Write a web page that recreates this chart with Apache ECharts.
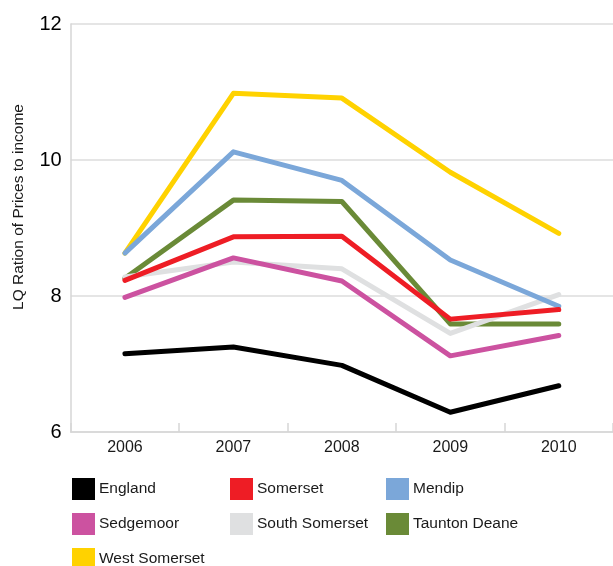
<!DOCTYPE html>
<html>
<head>
<meta charset="utf-8">
<script src="https://cdn.jsdelivr.net/npm/echarts@6/dist/echarts.min.js"></script>
<style>
  html, body { margin: 0; padding: 0; background: #fff; }
  #chart { width: 613px; height: 566px; }
</style>
</head>
<body>
<div id="chart"></div>
<script>
// Lower-quartile house price to income ratio, 2006-2010
const years = ['2006', '2007', '2008', '2009', '2010'];

const england       = [7.15, 7.25, 6.98, 6.29, 6.68];
const somerset      = [8.23, 8.87, 8.88, 7.66, 7.80];
const mendip        = [8.63, 10.12, 9.70, 8.53, 7.85];
const sedgemoor     = [7.98, 8.56, 8.22, 7.12, 7.42];
const southSomerset = [8.28, 8.50, 8.40, 7.45, 8.02];
const tauntonDeane  = [8.26, 9.41, 9.39, 7.59, 7.59];
const westSomerset  = [8.63, 10.98, 10.91, 9.82, 8.92];

const yTicks = { min: 6, max: 12, interval: 2 };

const seriesDefs = [
  { name: 'England',        data: england,       color: '#000000' },
  { name: 'Somerset',       data: somerset,      color: '#ee1d25' },
  { name: 'Mendip',         data: mendip,        color: '#7ba7d9' },
  { name: 'Sedgemoor',      data: sedgemoor,     color: '#cc52a0' },
  { name: 'South Somerset', data: southSomerset, color: '#dfe0e1' },
  { name: 'Taunton Deane',  data: tauntonDeane,  color: '#6a8a37' },
  { name: 'West Somerset',  data: westSomerset,  color: '#ffd200' }
];

const FONT = '"Liberation Sans", Arial, Helvetica, sans-serif';

// First series sits on top, so add them in reverse order
const series = seriesDefs.slice().reverse().map(s => ({
  name: s.name,
  type: 'line',
  data: s.data,
  symbol: 'none',
  color: s.color,
  lineStyle: { width: 5, color: s.color, cap: 'round', join: 'round' },
  itemStyle: { color: s.color },
  emphasis: { disabled: true },
  animation: false
}));

// Legend laid out as a 3-column grid, one legend block per cell group
function legendBlock(left, top, names) {
  return {
    left: left,
    top: top,
    orient: 'vertical',
    icon: 'rect',
    itemWidth: 23,
    itemHeight: 22,
    itemGap: 13,
    padding: 0,
    selectedMode: false,
    data: names,
    textStyle: { fontFamily: FONT, fontSize: 15.5, color: '#1a1a1a', padding: [0, 0, 0, -1] }
  };
}

const chart = echarts.init(document.getElementById('chart'), null, { renderer: 'canvas' });
chart.setOption({
  backgroundColor: '#ffffff',
  animation: false,
  grid: { left: 70.7, right: 0, top: 24, bottom: 134 },
  legend: [
    legendBlock(72, 478, ['England', 'Sedgemoor']),
    legendBlock(72, 548, ['West Somerset']),
    legendBlock(230, 478, ['Somerset', 'South Somerset']),
    legendBlock(386, 478, ['Mendip', 'Taunton Deane'])
  ],
  xAxis: {
    type: 'category',
    data: years,
    boundaryGap: true,
    axisLine: { show: true, lineStyle: { color: '#d6d6d6', width: 1.5 } },
    axisTick: { show: true, inside: true, length: 9, lineStyle: { color: '#d6d6d6', width: 1.5 } },
    axisLabel: { fontFamily: FONT, fontSize: 16, color: '#1a1a1a', margin: 8 },
    splitLine: { show: false }
  },
  yAxis: {
    type: 'value',
    min: yTicks.min,
    max: yTicks.max,
    interval: yTicks.interval,
    axisLine: { show: true, lineStyle: { color: '#d6d6d6', width: 1.5 } },
    axisTick: { show: false },
    axisLabel: { fontFamily: FONT, fontSize: 20, color: '#000000', margin: 9 },
    splitLine: { show: true, lineStyle: { color: '#dcdcdc', width: 1.5 } }
  },
  graphic: [{
    type: 'text',
    x: 18.5,
    y: 207,
    rotation: Math.PI / 2,
    style: {
      text: 'LQ Ration of Prices to income',
      font: '15.5px ' + FONT,
      fill: '#1a1a1a',
      align: 'center',
      verticalAlign: 'middle'
    }
  }],
  series: series
});
</script>
</body>
</html>
